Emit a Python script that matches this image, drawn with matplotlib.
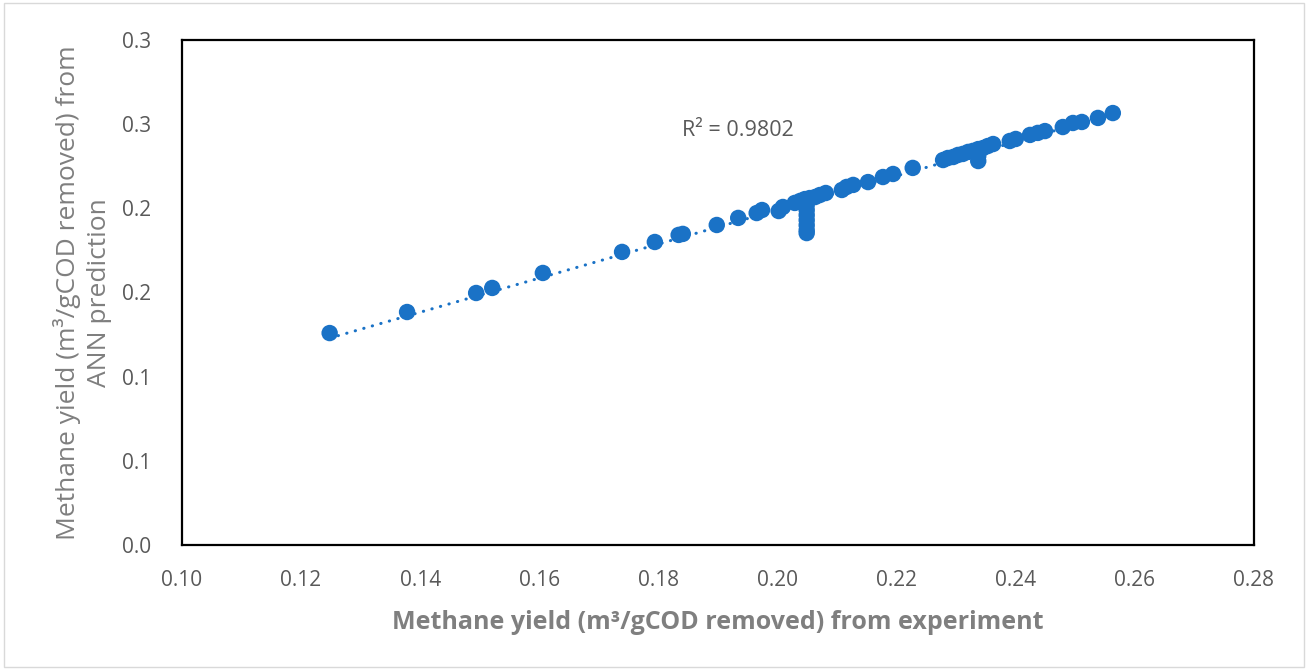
import numpy as np
import matplotlib
matplotlib.use("Agg")
import matplotlib.pyplot as plt
from matplotlib.patches import Rectangle

# Data
experiment = [0.1248, 0.1378, 0.1494, 0.1521, 0.1606, 0.1739, 0.1794, 0.1834, 0.1841,
              0.1898, 0.1934, 0.1965, 0.1974, 0.2002, 0.2009,
              0.2029, 0.2038, 0.2046, 0.2054, 0.2063, 0.2071, 0.2081,
              0.2049, 0.2049, 0.2049, 0.2049, 0.2049, 0.2049, 0.2049,
              0.2108, 0.2116, 0.2127, 0.2152, 0.2177, 0.2194, 0.2227,
              0.2278, 0.2286, 0.2295, 0.2303, 0.2311, 0.2320, 0.2328, 0.2337,
              0.2345, 0.2353, 0.2362, 0.2337, 0.2337,
              0.2390, 0.2400, 0.2424, 0.2437, 0.2449, 0.2479, 0.2496, 0.2511,
              0.2538, 0.2563]
ann_prediction = [0.1259, 0.1384, 0.1497, 0.1527, 0.1616, 0.1741, 0.1800, 0.1842, 0.1848,
                  0.1901, 0.1943, 0.1972, 0.1990, 0.1984, 0.2008,
                  0.2032, 0.2044, 0.2055, 0.2061, 0.2067, 0.2079, 0.2091,
                  0.2020, 0.1990, 0.1960, 0.1930, 0.1900, 0.1870, 0.1853,
                  0.2109, 0.2127, 0.2139, 0.2156, 0.2186, 0.2204, 0.2240,
                  0.2287, 0.2299, 0.2305, 0.2317, 0.2323, 0.2335, 0.2341, 0.2352,
                  0.2358, 0.2370, 0.2382, 0.2311, 0.2281,
                  0.2400, 0.2412, 0.2436, 0.2448, 0.2459, 0.2483, 0.2507, 0.2513,
                  0.2537, 0.2566]

x_ticks = [0.10, 0.12, 0.14, 0.16, 0.18, 0.20, 0.22, 0.24, 0.26, 0.28]
x_tick_labels = ["0.10", "0.12", "0.14", "0.16", "0.18", "0.20", "0.22", "0.24", "0.26", "0.28"]
y_ticks = [0.0, 0.05, 0.10, 0.15, 0.20, 0.25, 0.30]
y_tick_labels = ["0.0", "0.1", "0.1", "0.2", "0.2", "0.3", "0.3"]
r2_text = "R² = 0.9802"

plt.rcParams['font.family'] = ['Open Sans', 'DejaVu Sans']

blue = '#1a72c6'
gray = '#7f7f7f'

fig = plt.figure(figsize=(13.08, 6.70), dpi=100)
fig.patch.set_facecolor('white')
fig.patches.append(Rectangle((0.003, 0.004), 0.994, 0.992, transform=fig.transFigure,
                             fill=False, edgecolor='#d9d9d9', linewidth=1.0))

ax = fig.add_axes([0.1391, 0.1866, 0.8196, 0.7537])

x = np.array(experiment)
y = np.array(ann_prediction)
ax.scatter(x, y, s=140, color=blue, edgecolors='none', zorder=3)

coef = np.polyfit(x, y, 1)
xl = np.array([x.min(), x.max()])
ax.plot(xl, np.polyval(coef, xl), color=blue, linewidth=2.2,
        linestyle=(0, (0.1, 2.8)), dash_capstyle='round', zorder=4)

ax.set_xlim(0.10, 0.28)
ax.set_ylim(0.0, 0.30)
ax.set_xticks(x_ticks)
ax.set_xticklabels(x_tick_labels)
ax.set_yticks(y_ticks)
ax.set_yticklabels(y_tick_labels)
ax.tick_params(length=0, labelsize=15, labelcolor='#595959')
ax.tick_params(axis='x', pad=18)
ax.tick_params(axis='y', pad=22)

for sp in ax.spines.values():
    sp.set_color('black')
    sp.set_linewidth(1.6)

ax.set_xlabel("Methane yield (m³/gCOD removed) from experiment", fontsize=18,
              fontweight='bold', color=gray, labelpad=14)
ax.set_ylabel("Methane yield (m³/gCOD removed) from\nANN prediction", fontsize=19,
              color=gray, labelpad=7, linespacing=1.35)

ax.text(0.519, 0.820, r2_text, transform=ax.transAxes, fontsize=15.5,
        color='#595959', ha='center', va='center')

fig.savefig('out.png', dpi=100)
